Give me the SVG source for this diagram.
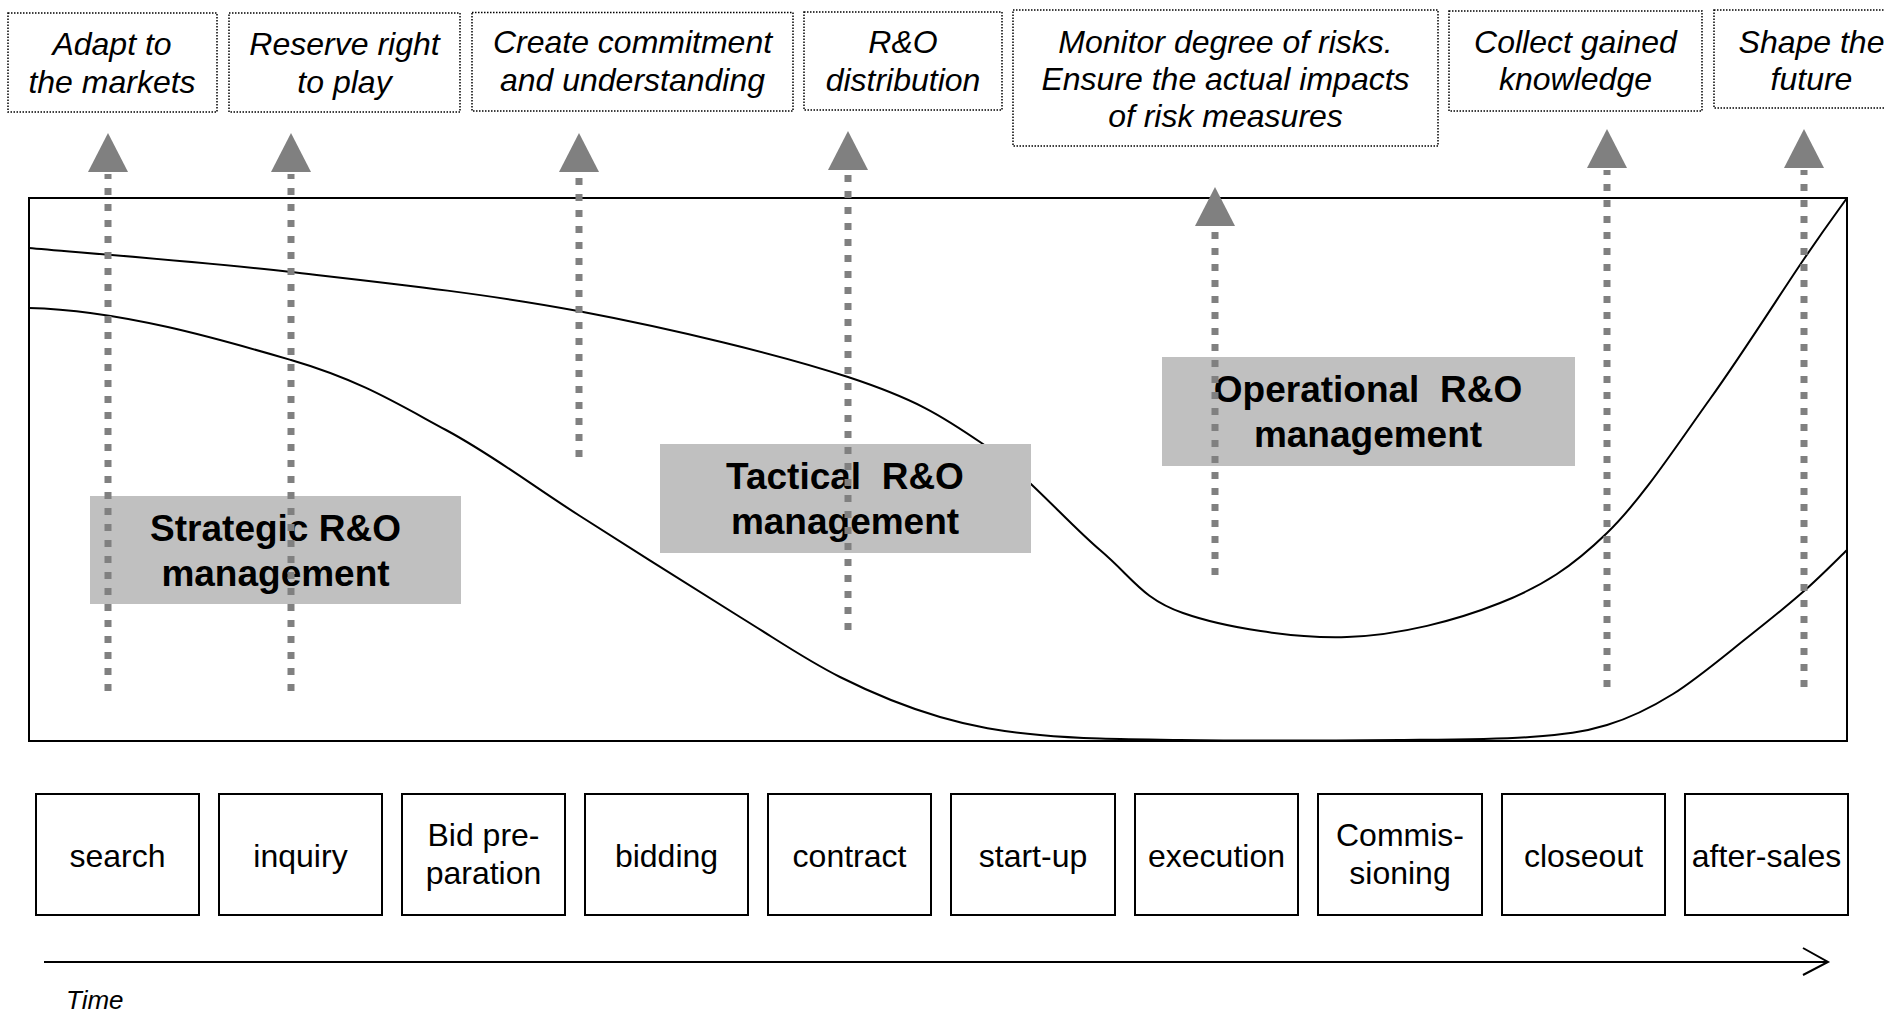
<svg xmlns="http://www.w3.org/2000/svg" width="1885" height="1016" viewBox="0 0 1885 1016">
<style>
.goal{fill:#fff;stroke:#000;stroke-width:1.5;stroke-dasharray:1.5 1.5}
.gt{font-family:"Liberation Sans",Arial,sans-serif;font-style:italic;font-size:32px;text-anchor:middle;fill:#000}
.lbl{fill:#c0c0c0}
.lt{font-family:"Liberation Sans",Arial,sans-serif;font-weight:bold;font-size:37px;text-anchor:middle;fill:#000;white-space:pre}
.ph{fill:#fff;stroke:#000;stroke-width:2}
.pt{font-family:"Liberation Sans",Arial,sans-serif;font-size:32px;text-anchor:middle;fill:#000}
.curve{fill:none;stroke:#000;stroke-width:2}
.stem{stroke:#808080;stroke-width:7;stroke-dasharray:7 9;fill:none}
.head{fill:#808080}
</style>
<rect width="1885" height="1016" fill="#fff"/>

<g id="frame">
<rect x="29" y="198" width="1818" height="543" fill="none" stroke="#000" stroke-width="2"/>
</g>

<g id="curves">
<path class="curve" d="M29,248 C72.7,252 199.5,261.5 291,272 C382.5,282.5 485.2,293.5 578,311 C670.8,328.5 780.5,354.8 848,377 C915.5,399.2 941,415.2 983,444 C1025,472.8 1066.7,521.8 1100,550 C1133.3,578.2 1141.8,598.5 1183,613 C1224.2,627.5 1294.2,638.7 1347,637 C1399.8,635.3 1456.7,620.3 1500,603 C1543.3,585.7 1572,567 1607,533 C1642,499 1677.2,444.7 1710,399 C1742.8,353.3 1781.2,292.5 1804,259 C1826.8,225.5 1839.8,208.2 1847,198"/>
<path class="curve" d="M29,308 C120,310 221.5,339.7 291,360 C360.5,380.3 397.8,404 446,430 C494.2,456 531,484.8 580,516 C629,547.2 696.7,590.2 740,617 C783.3,643.8 806.7,660.3 840,677 C873.3,693.7 906.7,707.3 940,717 C973.3,726.7 1000,731.2 1040,735 C1080,738.8 1120,739.2 1180,740 C1240,740.8 1341.7,740.5 1400,740 C1458.3,739.5 1495.5,739.5 1530,737 C1564.5,734.5 1583.2,732.2 1607,725 C1630.8,717.8 1649.5,708.7 1673,694 C1696.5,679.3 1726.2,654.2 1748,637 C1769.8,619.8 1787.5,605.5 1804,591 C1820.5,576.5 1839.8,556.8 1847,550"/>
</g>

<g id="label-strategic">
<rect class="lbl" x="90" y="496" width="371" height="108"/>
<text class="lt" x="275.5" y="541">Strategic R&amp;O</text>
<text class="lt" x="275.5" y="586">management</text>
</g>
<g id="label-tactical">
<rect class="lbl" x="660" y="444" width="371" height="109"/>
<text class="lt" x="845" y="489" xml:space="preserve">Tactical  R&amp;O</text>
<text class="lt" x="845" y="534">management</text>
</g>
<g id="label-operational">
<rect class="lbl" x="1162" y="357" width="413" height="109"/>
<text class="lt" x="1368" y="402" xml:space="preserve">Operational  R&amp;O</text>
<text class="lt" x="1368" y="447">management</text>
</g>

<g id="goal-1">
<rect class="goal" x="8" y="13" width="209" height="99"/>
<text class="gt" x="112" y="55">Adapt to</text>
<text class="gt" x="112" y="92.5">the markets</text>
</g>
<g id="goal-2">
<rect class="goal" x="229" y="13" width="231" height="99"/>
<text class="gt" x="344.5" y="55">Reserve right</text>
<text class="gt" x="344.5" y="92.5">to play</text>
</g>
<g id="goal-3">
<rect class="goal" x="472" y="12.5" width="321" height="98.5"/>
<text class="gt" x="632.5" y="53">Create commitment</text>
<text class="gt" x="632.5" y="91">and understanding</text>
</g>
<g id="goal-4">
<rect class="goal" x="804" y="12" width="198" height="98"/>
<text class="gt" x="903" y="53">R&amp;O</text>
<text class="gt" x="903" y="91">distribution</text>
</g>
<g id="goal-5">
<rect class="goal" x="1013" y="10" width="425" height="136"/>
<text class="gt" x="1225.5" y="53">Monitor degree of risks.</text>
<text class="gt" x="1225.5" y="90">Ensure the actual impacts</text>
<text class="gt" x="1225.5" y="127">of risk measures</text>
</g>
<g id="goal-6">
<rect class="goal" x="1449" y="11" width="253" height="100"/>
<text class="gt" x="1575.5" y="53">Collect gained</text>
<text class="gt" x="1575.5" y="90">knowledge</text>
</g>
<g id="goal-7">
<rect class="goal" x="1714" y="10" width="195" height="98"/>
<text class="gt" x="1811.5" y="53">Shape the</text>
<text class="gt" x="1811.5" y="90">future</text>
</g>

<g id="phase-search"><rect class="ph" x="36" y="794" width="163" height="121"/><text class="pt" x="117.5" y="867">search</text></g>
<g id="phase-inquiry"><rect class="ph" x="219" y="794" width="163" height="121"/><text class="pt" x="300.5" y="867">inquiry</text></g>
<g id="phase-bidprep"><rect class="ph" x="402" y="794" width="163" height="121"/><text class="pt" x="483.5" y="846">Bid pre-</text><text class="pt" x="483.5" y="884">paration</text></g>
<g id="phase-bidding"><rect class="ph" x="585" y="794" width="163" height="121"/><text class="pt" x="666.5" y="867">bidding</text></g>
<g id="phase-contract"><rect class="ph" x="768" y="794" width="163" height="121"/><text class="pt" x="849.5" y="867">contract</text></g>
<g id="phase-startup"><rect class="ph" x="951" y="794" width="164" height="121"/><text class="pt" x="1033" y="867">start-up</text></g>
<g id="phase-execution"><rect class="ph" x="1135" y="794" width="163" height="121"/><text class="pt" x="1216.5" y="867">execution</text></g>
<g id="phase-commissioning"><rect class="ph" x="1318" y="794" width="164" height="121"/><text class="pt" x="1400" y="846">Commis-</text><text class="pt" x="1400" y="884">sioning</text></g>
<g id="phase-closeout"><rect class="ph" x="1502" y="794" width="163" height="121"/><text class="pt" x="1583.5" y="867">closeout</text></g>
<g id="phase-aftersales"><rect class="ph" x="1685" y="794" width="163" height="121"/><text class="pt" x="1766.5" y="867">after-sales</text></g>

<g id="connectors">
<line class="stem" x1="108" y1="691" x2="108" y2="174"/>
<polygon class="head" points="108,133 128,172 88,172"/>
<line class="stem" x1="291" y1="691" x2="291" y2="174"/>
<polygon class="head" points="291,133 311,172 271,172"/>
<line class="stem" x1="579" y1="457" x2="579" y2="174"/>
<polygon class="head" points="579,133 599,172 559,172"/>
<line class="stem" x1="848" y1="630" x2="848" y2="172"/>
<polygon class="head" points="848,131 868,170 828,170"/>
<line class="stem" x1="1215" y1="575" x2="1215" y2="228"/>
<polygon class="head" points="1215,187 1235,226 1195,226"/>
<line class="stem" x1="1607" y1="687" x2="1607" y2="170"/>
<polygon class="head" points="1607,129 1627,168 1587,168"/>
<line class="stem" x1="1804" y1="687" x2="1804" y2="170"/>
<polygon class="head" points="1804,129 1824,168 1784,168"/>
</g>

<g id="time-axis">
<line x1="44" y1="962" x2="1828" y2="962" stroke="#000" stroke-width="2"/>
<polyline points="1803,948 1828,962 1803,975" fill="none" stroke="#000" stroke-width="2"/>
<text x="66" y="1009" font-family="Liberation Sans, Arial, sans-serif" font-style="italic" font-size="26">Time</text>
</g>
</svg>
